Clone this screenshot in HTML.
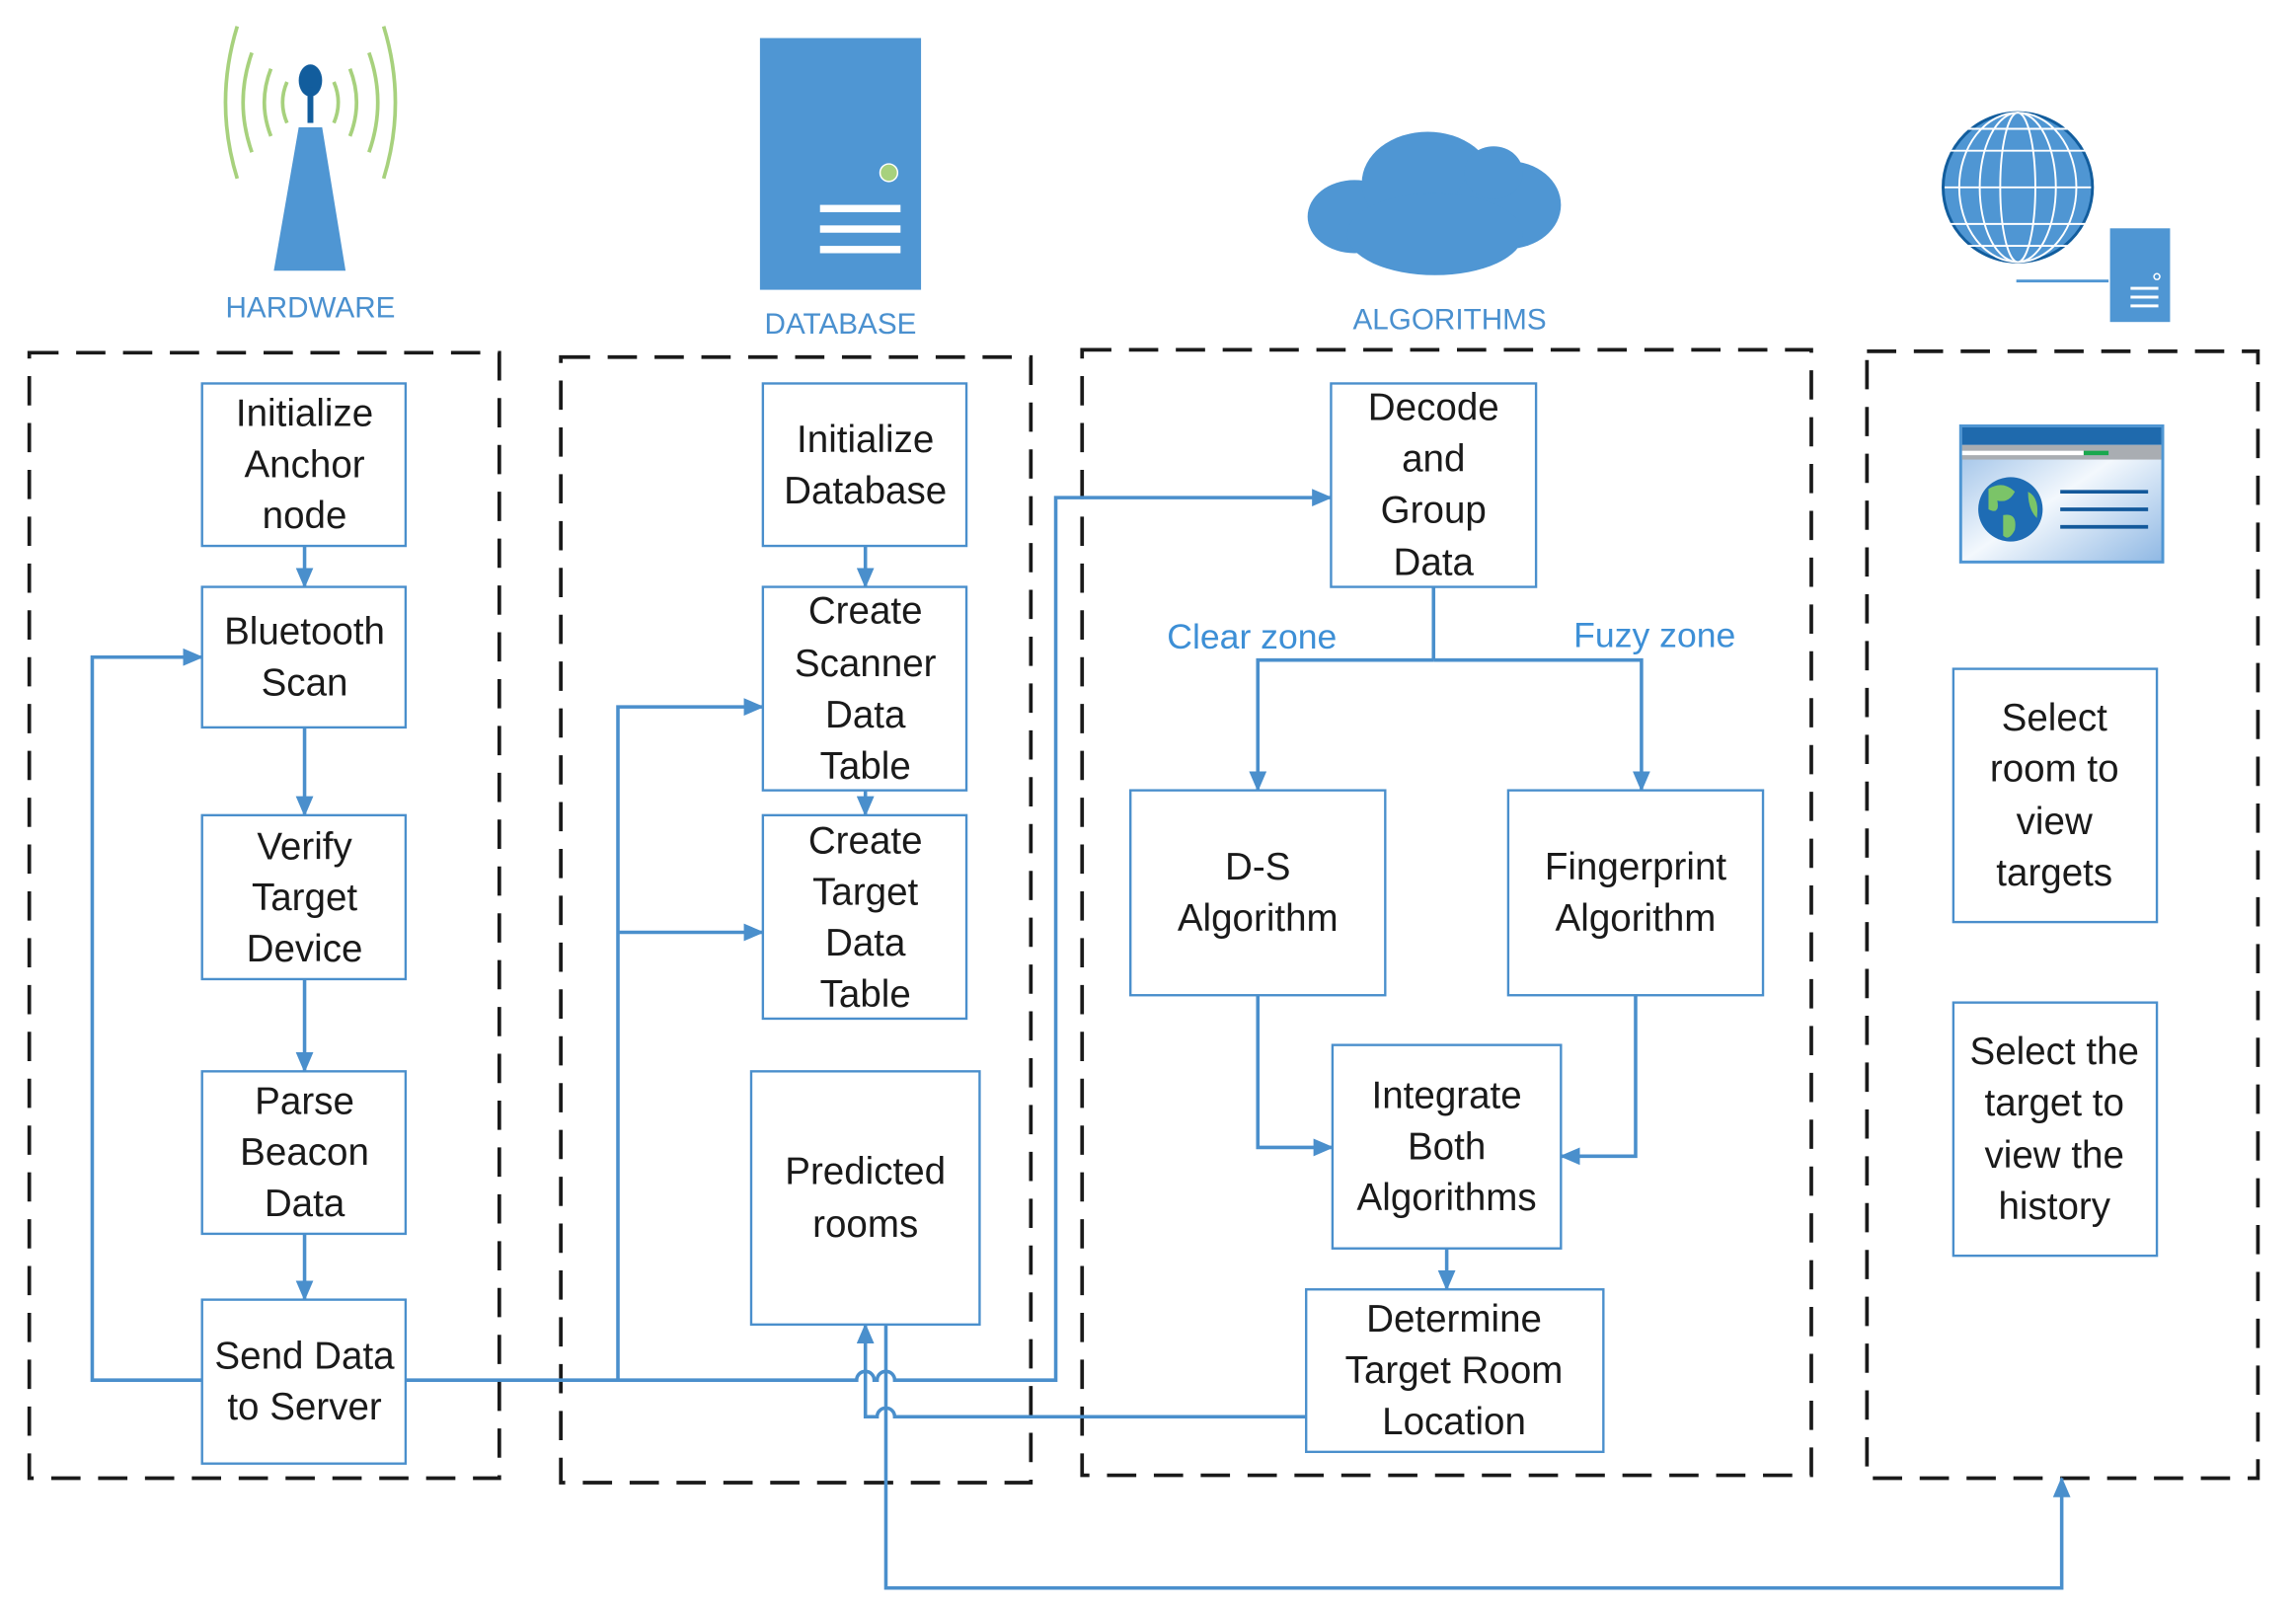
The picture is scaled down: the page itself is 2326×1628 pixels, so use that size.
<!DOCTYPE html>
<html><head><meta charset="utf-8"><style>
html,body{margin:0;padding:0;background:#fff;}
svg{display:block;}
.t{font-family:"Liberation Sans Narrow","Liberation Sans",sans-serif;font-size:26px;fill:#1a1a1a;text-anchor:middle;}
.lbl{font-family:"Liberation Sans",sans-serif;font-size:20px;fill:#4a90cf;text-anchor:middle;}
.zone{font-family:"Liberation Sans",sans-serif;font-size:24px;fill:#3d8fd6;text-anchor:middle;}
.b{fill:#fff;stroke:#4a8fcc;stroke-width:1.6;}
.d{fill:none;stroke:#1a1a1a;stroke-width:2.5;stroke-dasharray:20,12;}
.c{fill:none;stroke:#4a8fcc;stroke-width:2.4;}
</style></head><body>
<svg width="2326" height="1628" viewBox="0 0 1568 1098" preserveAspectRatio="none" xmlns="http://www.w3.org/2000/svg">
<defs>
<marker id="a" markerWidth="14" markerHeight="12" refX="13" refY="6" orient="auto" markerUnits="userSpaceOnUse"><path d="M0,0 L14,6 L0,12 z" fill="#4a8fcc"/></marker>
<linearGradient id="bg" x1="0" y1="0" x2="1" y2="1"><stop offset="0" stop-color="#8fb8e4"/><stop offset="0.5" stop-color="#f3f8fd"/><stop offset="1" stop-color="#8fb8e4"/></linearGradient>
</defs>

<g fill="none" stroke="#a7d17d" stroke-width="2.5">
<path d="M172,36 Q160,70 172,104"/><path d="M252,36 Q264,70 252,104"/>
<path d="M185,47 Q176,70 185,93"/><path d="M239,47 Q248,70 239,93"/>
<path d="M196,56 Q190,70 196,84"/><path d="M228,56 Q234,70 228,84"/>
<path d="M162,18 Q146,70 162,122"/><path d="M262,18 Q278,70 262,122"/>
</g>
<ellipse cx="212" cy="55" rx="8" ry="11" fill="#125d9d"/>
<rect x="210" y="60" width="4" height="24" fill="#125d9d"/>
<polygon points="204,87 220,87 236,185 187,185" fill="#4f96d3"/>
<text class="lbl" x="212" y="217">HARDWARE</text>

<rect x="519" y="26" width="110" height="172" fill="#4f96d3"/>
<circle cx="607" cy="118" r="6" fill="#a7d17d" stroke="#fff" stroke-width="1"/>
<rect x="560" y="140" width="55" height="5" fill="#fff"/>
<rect x="560" y="154" width="55" height="5" fill="#fff"/>
<rect x="560" y="168" width="55" height="5" fill="#fff"/>
<text class="lbl" x="574" y="228">DATABASE</text>

<g fill="#4f96d3">
<ellipse cx="925" cy="148" rx="32" ry="25"/>
<ellipse cx="975" cy="125" rx="45" ry="35"/>
<ellipse cx="1030" cy="140" rx="36" ry="30"/>
<ellipse cx="1020" cy="118" rx="20" ry="18"/>
<ellipse cx="980" cy="160" rx="60" ry="28"/>
</g>
<text class="lbl" x="990" y="225">ALGORITHMS</text>

<g>
<ellipse cx="1378" cy="128" rx="51" ry="51" fill="#4f96d3" stroke="#125d9d" stroke-width="2"/>
<g stroke="#fff" stroke-width="1.3" fill="none">
<ellipse cx="1378" cy="128" rx="12" ry="51"/><ellipse cx="1378" cy="128" rx="26" ry="51"/><ellipse cx="1378" cy="128" rx="40" ry="51"/>
<line x1="1328" y1="103" x2="1428" y2="103"/><line x1="1328" y1="128" x2="1428" y2="128"/><line x1="1328" y1="153" x2="1428" y2="153"/>
<line x1="1338" y1="88" x2="1418" y2="88"/><line x1="1338" y1="168" x2="1418" y2="168"/>
</g>
<rect x="1441" y="156" width="41" height="64" fill="#4f96d3"/>
<rect x="1455" y="196" width="19" height="2" fill="#fff"/><rect x="1455" y="202" width="19" height="2" fill="#fff"/><rect x="1455" y="208" width="19" height="2" fill="#fff"/>
<circle cx="1473" cy="189" r="2" fill="none" stroke="#fff"/>
<line x1="1377" y1="192" x2="1440" y2="192" stroke="#4f96d3" stroke-width="2"/>
</g>

<rect x="1339" y="291" width="138" height="93" fill="url(#bg)" stroke="#4f96d3" stroke-width="2"/>
<rect x="1340" y="292" width="136" height="12" fill="#1f6aad"/>
<rect x="1340" y="304" width="136" height="10" fill="#a9adb2"/>
<rect x="1340" y="308" width="83" height="3" fill="#fff"/><rect x="1423" y="308" width="17" height="3" fill="#1aa84d"/>
<circle cx="1373" cy="348" r="22" fill="#1e6cb4"/>
<path d="M1358,334 q10,-6 18,2 q-4,8 -12,6 q2,10 -6,6 z M1368,352 q10,-2 8,10 q-4,8 -8,4 z M1385,336 q8,4 6,18 q-6,-6 -6,-18 z" fill="#7bc468"/>
<g stroke="#13599b" stroke-width="2.5"><line x1="1407" y1="336" x2="1467" y2="336"/><line x1="1407" y1="348" x2="1467" y2="348"/><line x1="1407" y1="360" x2="1467" y2="360"/></g>

<rect class="d" x="20" y="241" width="321" height="769"/>
<rect class="d" x="383" y="244" width="321" height="769"/>
<rect class="d" x="739" y="239" width="498" height="769"/>
<rect class="d" x="1275" y="240" width="267" height="770"/>

<path class="c" d="M208,373 V401" marker-end="url(#a)"/>
<path class="c" d="M208,497 V557" marker-end="url(#a)"/>
<path class="c" d="M208,669 V732" marker-end="url(#a)"/>
<path class="c" d="M208,843 V888" marker-end="url(#a)"/>
<path class="c" d="M138,943 H63 V449 H138" marker-end="url(#a)"/>
<path class="c" d="M277,943 H585 a6,6 0 0 1 12,0 H599 a6,6 0 0 1 12,0 H721 V340 H909" marker-end="url(#a)"/>
<path class="c" d="M422,943 V483 H521" marker-end="url(#a)"/>
<path class="c" d="M422,637 H521" marker-end="url(#a)"/>
<path class="c" d="M591,373 V401" marker-end="url(#a)"/>
<path class="c" d="M591,540 V557" marker-end="url(#a)"/>
<path class="c" d="M979,401 V451"/>
<path class="c" d="M979,451 H859 V540" marker-end="url(#a)"/>
<path class="c" d="M979,451 H1121 V540" marker-end="url(#a)"/>
<path class="c" d="M859,680 V784 H910" marker-end="url(#a)"/>
<path class="c" d="M1117,680 V790 H1066" marker-end="url(#a)"/>
<path class="c" d="M988,853 V881" marker-end="url(#a)"/>
<path class="c" d="M892,968 H611 a6,6 0 0 0 -12,0 H591 V905" marker-end="url(#a)"/>
<path class="c" d="M605,905 V1085 H1408 V1010" marker-end="url(#a)"/>

<rect class="b" x="138" y="262" width="139" height="111"/>
<text class="t" x="208" y="291">Initialize</text><text class="t" x="208" y="326">Anchor</text><text class="t" x="208" y="361">node</text>
<rect class="b" x="138" y="401" width="139" height="96"/>
<text class="t" x="208" y="440">Bluetooth</text><text class="t" x="208" y="475">Scan</text>
<rect class="b" x="138" y="557" width="139" height="112"/>
<text class="t" x="208" y="587">Verify</text><text class="t" x="208" y="622">Target</text><text class="t" x="208" y="657">Device</text>
<rect class="b" x="138" y="732" width="139" height="111"/>
<text class="t" x="208" y="761">Parse</text><text class="t" x="208" y="796">Beacon</text><text class="t" x="208" y="831">Data</text>
<rect class="b" x="138" y="888" width="139" height="112"/>
<text class="t" x="208" y="935">Send Data</text><text class="t" x="208" y="970">to Server</text>

<rect class="b" x="521" y="262" width="139" height="111"/>
<text class="t" x="591" y="309">Initialize</text><text class="t" x="591" y="344">Database</text>
<rect class="b" x="521" y="401" width="139" height="139"/>
<text class="t" x="591" y="426">Create</text><text class="t" x="591" y="462">Scanner</text><text class="t" x="591" y="497">Data</text><text class="t" x="591" y="532">Table</text>
<rect class="b" x="521" y="557" width="139" height="139"/>
<text class="t" x="591" y="583">Create</text><text class="t" x="591" y="618">Target</text><text class="t" x="591" y="653">Data</text><text class="t" x="591" y="688">Table</text>
<rect class="b" x="513" y="732" width="156" height="173"/>
<text class="t" x="591" y="809">Predicted</text><text class="t" x="591" y="845">rooms</text>

<rect class="b" x="909" y="262" width="140" height="139"/>
<text class="t" x="979" y="287">Decode</text><text class="t" x="979" y="322">and</text><text class="t" x="979" y="357">Group</text><text class="t" x="979" y="393">Data</text>
<text class="zone" x="855" y="443">Clear zone</text>
<text class="zone" x="1130" y="442">Fuzy zone</text>
<rect class="b" x="772" y="540" width="174" height="140"/>
<text class="t" x="859" y="601">D-S</text><text class="t" x="859" y="636">Algorithm</text>
<rect class="b" x="1030" y="540" width="174" height="140"/>
<text class="t" x="1117" y="601">Fingerprint</text><text class="t" x="1117" y="636">Algorithm</text>
<rect class="b" x="910" y="714" width="156" height="139"/>
<text class="t" x="988" y="757">Integrate</text><text class="t" x="988" y="792">Both</text><text class="t" x="988" y="827">Algorithms</text>
<rect class="b" x="892" y="881" width="203" height="111"/>
<text class="t" x="993" y="910">Determine</text><text class="t" x="993" y="945">Target Room</text><text class="t" x="993" y="980">Location</text>

<rect class="b" x="1334" y="457" width="139" height="173"/>
<text class="t" x="1403" y="499">Select</text><text class="t" x="1403" y="534">room to</text><text class="t" x="1403" y="570">view</text><text class="t" x="1403" y="605">targets</text>
<rect class="b" x="1334" y="685" width="139" height="173"/>
<text class="t" x="1403" y="727">Select the</text><text class="t" x="1403" y="762">target to</text><text class="t" x="1403" y="798">view the</text><text class="t" x="1403" y="833">history</text>
</svg>
</body></html>
